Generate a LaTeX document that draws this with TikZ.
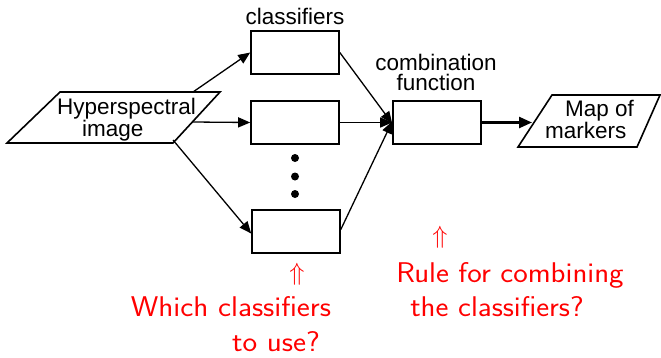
\documentclass[tikz,border=0pt]{standalone}
\usepackage{fontspec}
\newfontfamily\helv{Liberation Sans}
\usetikzlibrary{arrows.meta}

\begin{document}
\begin{tikzpicture}[x=1pt, y=-1pt,
  box/.style={draw, line width=1.6pt, minimum width=88pt, minimum height=43pt, inner sep=0pt},
  datashape/.style={draw, line width=1.6pt, fill=white, line join=miter},
  lbl/.style={anchor=base, inner sep=0pt, font=\helv\fontsize{22.5}{20}\selectfont},
  flow/.style={line width=1.3pt, -{Triangle[length=12pt,width=10pt]}},
  ask/.style={anchor=base, inner sep=0pt, text=red, font=\sffamily\fontsize{28.5}{35}\selectfont},
  upmark/.style={text=red, inner sep=0pt, font=\fontsize{31}{35}\selectfont},
  dot/.style={circle, fill=black, minimum size=8pt, inner sep=0pt}]
\useasboundingbox (0,0) rectangle (661,357);

% input data: hyperspectral image (base anchor = last line's baseline)
\draw[datashape] (60,92) -- (220,92) -- (173,143) -- (7,143) -- cycle;
\node[lbl, anchor=base west, align=left] (hyp) at (57,136.5) {Hyperspectral\\\hspace*{25pt}image};
\coordinate (hypT) at (193,92);
\coordinate (hypM) at (193,122);
\coordinate (hypB) at (173,140);

% bank of classifiers
\node[lbl] (cltitle) at (295,24) {classifiers};
\node[box] (c1) at (295,52.5) {};
\node[box] (c2) at (295,122.5) {};
\node[box] (c3) at (296,231.5) {};
\node[dot] (d1) at (295,158) {};
\node[dot] (d2) at (295,176.5) {};
\node[dot] (d3) at (295,194) {};

% combination stage
\node[lbl, align=center] (cf) at (436,90.5) {combination\\function};
\node[box] (comb) at (437,122.5) {};

% output data: map of markers
\draw[datashape] (552,95) -- (660,95) -- (637,147) -- (518,147) -- cycle;
\node[lbl, anchor=base west, align=left] (map) at (545,138.3) {\hspace*{20pt}Map of\\markers};
\coordinate (mapin) at (532,122.5);

% connectors
\draw[flow] (hypT) -- (c1.west);
\draw[flow] (hypM) -- (c2.west);
\draw[flow] (hypB) -- ([yshift=-2pt]c3.west);
\draw[flow] (c1.east) -- ([yshift=-1pt]comb.west);
\draw[flow] (c2.east) -- (comb.west);
\draw[flow] ([yshift=2pt]c3.east) -- ([yshift=1pt]comb.west);
\draw[line width=2.4pt, -{Triangle[length=13pt,width=11pt]}] (comb.east) -- (mapin);

% open questions
\node[upmark] (up1) at (297,274) {$\Uparrow$};
\node[ask] (q1a) at (231,316.7) {\scalebox{1.09}[1]{Which classifiers}};
\node[ask] (q1b) at (276,351.7) {\scalebox{1.09}[1]{to use?}};
\node[upmark] (up2) at (440,237) {$\Uparrow$};
\node[ask] (q2a) at (510,282) {\scalebox{1.08}[1]{Rule for combining}};
\node[ask] (q2b) at (497,316.7) {\scalebox{1.08}[1]{the classifiers?}};
\end{tikzpicture}
\end{document}
